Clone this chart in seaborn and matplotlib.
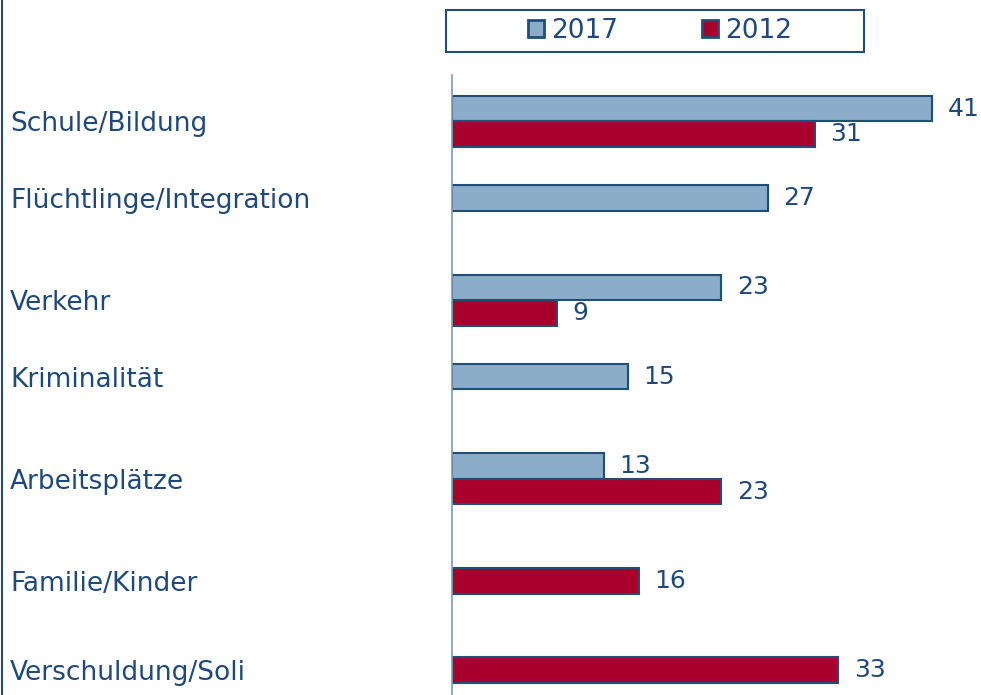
"""Grouped horizontal bar chart: Themen 2017 vs 2012."""

import matplotlib.pyplot as plt
import numpy as np
import pandas as pd
import seaborn as sns
from matplotlib.patches import Patch, Rectangle

categories = [
    "Schule/Bildung",
    "Flüchtlinge/Integration",
    "Verkehr",
    "Kriminalität",
    "Arbeitsplätze",
    "Familie/Kinder",
    "Verschuldung/Soli",
]
years = ["2017", "2012"]
values_2017 = [41, 27, 23, 15, 13, np.nan, np.nan]
values_2012 = [31, np.nan, 9, np.nan, 23, 16, 33]

TEXT = "#1F497D"
EDGE = "#1F4E79"
COLORS = {"2017": "#8BADC9", "2012": "#A8002D"}

df = pd.DataFrame(
    {
        "Thema": categories * 2,
        "Jahr": ["2017"] * len(categories) + ["2012"] * len(categories),
        "Wert": values_2017 + values_2012,
    }
)

sns.set_style("white")
plt.rcParams["font.family"] = ["DejaVu Sans"]

fig = plt.figure(figsize=(9.81, 6.95), dpi=100)
ax = fig.add_axes([452 / 981, 0.0, 527 / 981, 1 - 75 / 695])

width = 0.57
sns.barplot(
    data=df.dropna(),
    x="Wert",
    y="Thema",
    hue="Jahr",
    order=categories,
    hue_order=years,
    palette=COLORS,
    saturation=1,
    width=width,
    errorbar=None,
    edgecolor=EDGE,
    linewidth=1.5,
    legend=False,
    ax=ax,
)

for container in ax.containers:
    ax.bar_label(container, fmt="%.0f", padding=11, fontsize=18, color=TEXT)

ax.set_xlim(0, 45)
ax.set_ylim(6.42, -0.52)

# put each label next to the bars that are actually drawn
offsets = {"2017": -width / 4, "2012": width / 4}
tick_pos = []
for i in range(len(categories)):
    present = [offsets[y] for y, v in zip(years, (values_2017[i], values_2012[i]))
               if not np.isnan(v)]
    tick_pos.append(i + np.mean(present))
ax.set_yticks(tick_pos)
ax.set_yticklabels(categories, ha="left", fontsize=19, color=TEXT)
ax.tick_params(axis="y", length=0, pad=442 / (100 / 72))
ax.set_xticks([])
ax.set_xlabel("")
ax.set_ylabel("")
for side in ["top", "right", "bottom"]:
    ax.spines[side].set_visible(False)
ax.spines["left"].set_color("#7F9AB5")
ax.spines["left"].set_linewidth(1.2)

# legend box
fig.patches.append(
    Rectangle((446 / 981, 1 - 52 / 695), 418 / 981, 42 / 695,
              transform=fig.transFigure, fill=False, edgecolor=EDGE, linewidth=1.5)
)
handles = [Patch(facecolor=COLORS[y], edgecolor=EDGE, linewidth=2, label=y) for y in years]
fig.legend(
    handles=handles,
    loc="center",
    bbox_to_anchor=(660 / 981, 1 - 31 / 695),
    ncol=2,
    frameon=False,
    fontsize=19,
    labelcolor=TEXT,
    handlelength=0.6,
    handleheight=0.6,
    handletextpad=0.25,
    columnspacing=3.2,
)

# left border of the figure
fig.add_artist(plt.Line2D([2 / 981, 2 / 981], [0, 1], color=EDGE, linewidth=1.5))

fig.savefig("out.png", dpi=100)
